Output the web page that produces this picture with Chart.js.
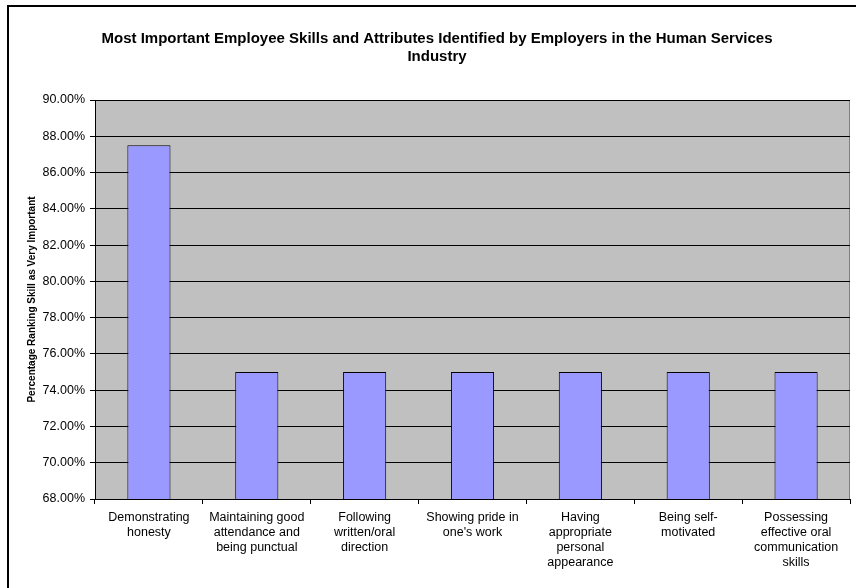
<!DOCTYPE html>
<html>
<head>
<meta charset="utf-8">
<script src="https://cdn.jsdelivr.net/npm/chart.js@4/dist/chart.umd.min.js"></script>
<style>
html,body{margin:0;padding:0;background:#fff;overflow:hidden;width:856px;height:588px;}
canvas{display:block;}
</style>
</head>
<body>
<canvas id="c" width="866" height="588"></canvas>
<script>
const categories = [
  ['Demonstrating','honesty'],
  ['Maintaining good','attendance and','being punctual'],
  ['Following','written/oral','direction'],
  ['Showing pride in',"one's work"],
  ['Having','appropriate','personal','appearance'],
  ['Being self-','motivated'],
  ['Possessing','effective oral','communication','skills']
];
const values = [87.5, 75, 75, 75, 75, 75, 75];
const titleLines = ['Most Important Employee Skills and Attributes Identified by Employers in the Human Services','Industry'];
const yTitle = 'Percentage Ranking Skill as Very Important';
const yMin = 68, yMax = 90, yStep = 2;

const FONT = "'Liberation Sans', Arial, sans-serif";

const framePlugin = {
  id: 'frame',
  beforeDraw(chart) {
    const ctx = chart.ctx, a = chart.chartArea;
    ctx.save();
    ctx.fillStyle = '#fff';
    ctx.fillRect(0, 0, chart.width, chart.height);
    ctx.strokeStyle = '#000';
    ctx.lineWidth = 2;
    ctx.strokeRect(8, 6, 1000, 1000);
    ctx.fillStyle = '#C0C0C0';
    ctx.fillRect(a.left, a.top, a.right - a.left, a.bottom - a.top);
    ctx.strokeStyle = '#808080';
    ctx.lineWidth = 1;
    ctx.strokeRect(a.left + 0.5, a.top + 0.5, a.right - a.left - 1, a.bottom - a.top);
    ctx.restore();
  }
};

new Chart(document.getElementById('c'), {
  type: 'bar',
  data: {
    labels: categories,
    datasets: [{
      data: values,
      backgroundColor: '#9999FF',
      borderColor: '#000',
      borderWidth: 1,
      borderSkipped: false,
      barPercentage: 0.4,
      categoryPercentage: 1.0
    }]
  },
  options: {
    responsive: false,
    devicePixelRatio: 1,
    animation: false,
    layout: { padding: { left: 8, right: 0, top: 0, bottom: 0 } },
    plugins: {
      legend: { display: false },
      tooltip: { enabled: false },
      title: {
        display: true,
        text: titleLines,
        color: '#000',
        font: { family: FONT, size: 15, weight: 'bold', lineHeight: 1.15 },
        padding: { top: 30.5, bottom: 35 }
      }
    },
    scales: {
      x: {
        grid: { offset: true, drawOnChartArea: false, color: '#000', tickLength: 5 },
        border: { color: '#000' },
        ticks: {
          color: '#000', maxRotation: 0, minRotation: 0, autoSkip: false, padding: 6,
          font: { family: FONT, size: 12.5, lineHeight: 1.2 }
        },
        afterFit(s) { s.height = 89; }
      },
      y: {
        min: yMin, max: yMax,
        grid: { color: '#000', tickLength: 5 },
        border: { color: '#000' },
        ticks: {
          stepSize: yStep, color: '#000', padding: 5,
          font: { family: FONT, size: 12.5 },
          callback: v => v.toFixed(2) + '%'
        },
        title: {
          display: true, text: yTitle, color: '#000',
          font: { family: FONT, size: 10, weight: 'bold' },
          padding: { top: 18, bottom: 0 }
        },
        afterFit(s) { s.width = 87; }
      },
      y2: {
        position: 'right',
        display: true,
        grid: { display: false },
        border: { display: false },
        ticks: { display: false },
        afterFit(s) { s.width = 16; }
      }
    }
  },
  plugins: [framePlugin]
});
</script>
</body>
</html>
